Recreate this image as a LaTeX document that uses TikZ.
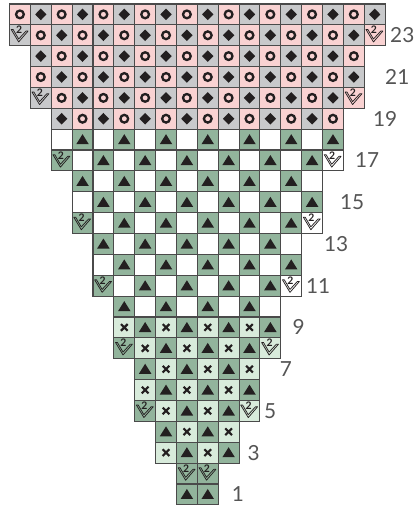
\documentclass[tikz,border=0pt]{standalone}
\usepackage{fontspec}
\setsansfont{Lato}
\usepackage{xcolor}
\definecolor{rosebg}{HTML}{F9D2D2}
\definecolor{greybg}{HTML}{C8C9CB}
\definecolor{sagebg}{HTML}{92B49C}
\definecolor{mintbg}{HTML}{D8EBDB}
\definecolor{gridline}{HTML}{4A4A4A}
\definecolor{inkblack}{HTML}{231F20}
\definecolor{numgrey}{HTML}{555555}

\begin{document}
\begin{tikzpicture}[
    x=6mm, y=6mm,
    cell/.style={draw=gridline, line width=0.9pt, minimum size=6mm, inner sep=0pt, outer sep=0pt},
    rownum/.style={text=numgrey, font=\sffamily\fontsize{17}{17}\selectfont, inner sep=0pt},
    ring/.pic={\draw[inkblack, line width=1.9pt] (0,0) circle (0.185);},
    gem/.pic={\fill[inkblack] (0,0.28) -- (0.27,0) -- (0,-0.28) -- (-0.27,0) -- cycle;},
    tri/.pic={\fill[inkblack] (-0.3,-0.22) -- (0.3,-0.22) -- (0,0.26) -- cycle;},
    cross/.pic={\draw[inkblack, line width=1.8pt] (-0.16,-0.16) -- (0.16,0.16) (-0.16,0.16) -- (0.16,-0.16);},
    incr/.pic={
        \draw[inkblack, line width=0.6pt, line join=round] (-0.42,0.28) -- (-0.06,-0.32) -- (0.39,0.2) -- (0.29,0.2) -- (-0.06,-0.18) -- (-0.33,0.28) -- cycle;
        \node[inkblack, font=\sffamily\bfseries\fontsize{8.5}{8.5}\selectfont, inner sep=0pt] (-two) at (-0.04,0.25) {2};
    }
]
\useasboundingbox (-0.455,-0.2) rectangle (19.39,24.19);

\foreach \r/\a/\b in {24/1/18, 23/1/18, 22/2/17, 21/2/17, 20/2/17, 19/3/16,
    18/3/16, 17/3/16, 16/4/15, 15/4/15, 14/4/15, 13/5/14, 12/5/14, 11/5/14,
    10/6/13, 9/6/13, 8/6/13, 7/7/12, 6/7/12, 5/7/12, 4/8/11, 3/8/11, 2/9/10, 1/9/10}{
  \foreach \c in {\a,...,\b}{
    \pgfmathtruncatemacro{\p}{mod(\r+\c,2)}
    \pgfmathtruncatemacro{\e}{(mod(\r,3)==2) && ((\c==\a) || (\c==\b))}
    \ifnum\r>18
      \ifnum\p=1 \colorlet{bg}{rosebg}\def\sym{ring}\else \colorlet{bg}{greybg}\def\sym{gem}\fi
    \else\ifnum\r>9
      \ifnum\p=0 \colorlet{bg}{sagebg}\def\sym{tri}\else \colorlet{bg}{white}\def\sym{}\fi
    \else
      \ifnum\p=0 \colorlet{bg}{sagebg}\def\sym{tri}\else \colorlet{bg}{mintbg}\def\sym{cross}\fi
    \fi\fi
    \ifnum\r<3 \colorlet{bg}{sagebg}\def\sym{tri}\fi
    \ifnum\e=1 \def\sym{incr}\fi
    \node[cell, fill=bg] (c-\r-\c) at (\c-0.5,\r-0.5) {};
    \ifx\sym\empty\else
      \edef\drawsym{\noexpand\pic (p-\r-\c) at (c-\r-\c) {\sym};}\drawsym
    \fi
  }
}

\foreach \n/\x in {1/10.95, 3/11.7, 5/12.49, 7/13.25, 9/13.85, 11/14.79,
    13/15.65, 15/16.42, 17/17.14, 19/18.0, 21/18.58, 23/18.82}
  \node[rownum] (n\n) at (\x,\n-0.5) {\n};

\end{tikzpicture}
\end{document}
